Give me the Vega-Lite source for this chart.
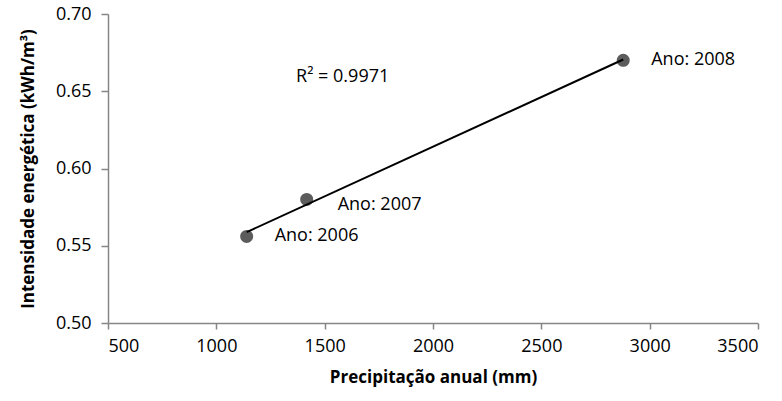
{
  "$schema": "https://vega.github.io/schema/vega-lite/v6.json",
  "width": 650,
  "height": 309,
  "autosize": "none",
  "padding": {"left": 108, "top": 14, "right": 24, "bottom": 78},
  "background": "white",
  "config": {
    "view": {"stroke": null},
    "font": "Open Sans",
    "axis": {
      "grid": false,
      "domainColor": "#868686",
      "domainWidth": 1.5,
      "tickColor": "#868686",
      "tickWidth": 1.5,
      "tickSize": 6,
      "labelColor": "#000000",
      "labelFontSize": 18,
      "labelFont": "Open Sans",
      "titleColor": "#000000",
      "titleFont": "Open Sans",
      "titleFontSize": 17,
      "titleFontWeight": "bold"
    }
  },
  "data": {
    "values": [
      {"precip": 1140, "intensidade": 0.556, "rotulo": "Ano: 2006"},
      {"precip": 1417, "intensidade": 0.580, "rotulo": "Ano: 2007"},
      {"precip": 2878, "intensidade": 0.670, "rotulo": "Ano: 2008"}
    ]
  },
  "encoding": {
    "x": {
      "field": "precip",
      "type": "quantitative",
      "scale": {"domain": [500, 3500], "nice": false, "zero": false},
      "axis": {
        "title": "Precipitação anual (mm)",
        "values": [500, 1000, 1500, 2000, 2500, 3000, 3500],
        "format": "d",
        "labelPadding": 8,
        "titlePadding": 14
      }
    },
    "y": {
      "field": "intensidade",
      "type": "quantitative",
      "scale": {"domain": [0.5, 0.7], "nice": false, "zero": false},
      "axis": {
        "title": "Intensidade energética (kWh/m³)",
        "values": [0.5, 0.55, 0.6, 0.65, 0.7],
        "format": ".2f",
        "tickSize": 7,
        "labelPadding": 10,
        "titlePadding": 18
      }
    }
  },
  "layer": [
    {
      "mark": {"type": "circle", "size": 170, "color": "#5c5c5c", "opacity": 1}
    },
    {
      "transform": [{"regression": "intensidade", "on": "precip"}],
      "mark": {"type": "line", "color": "#000000", "strokeWidth": 2}
    },
    {
      "transform": [{"filter": "datum.rotulo !== 'Ano: 2007'"}],
      "mark": {"type": "text", "align": "left", "baseline": "middle", "dx": 28, "fontSize": 18, "font": "Open Sans", "color": "#000000"},
      "encoding": {"text": {"field": "rotulo", "type": "nominal"}}
    },
    {
      "transform": [{"filter": "datum.rotulo === 'Ano: 2007'"}],
      "mark": {"type": "text", "align": "left", "baseline": "middle", "dx": 31, "dy": 6, "fontSize": 18, "font": "Open Sans", "color": "#000000"},
      "encoding": {"text": {"field": "rotulo", "type": "nominal"}}
    },
    {
      "data": {"values": [{"precip": 1368, "intensidade": 0.659, "texto": "R² = 0.9971"}]},
      "mark": {"type": "text", "align": "left", "baseline": "middle", "fontSize": 18, "font": "Open Sans", "color": "#000000"},
      "encoding": {"text": {"field": "texto", "type": "nominal"}}
    }
  ]
}
